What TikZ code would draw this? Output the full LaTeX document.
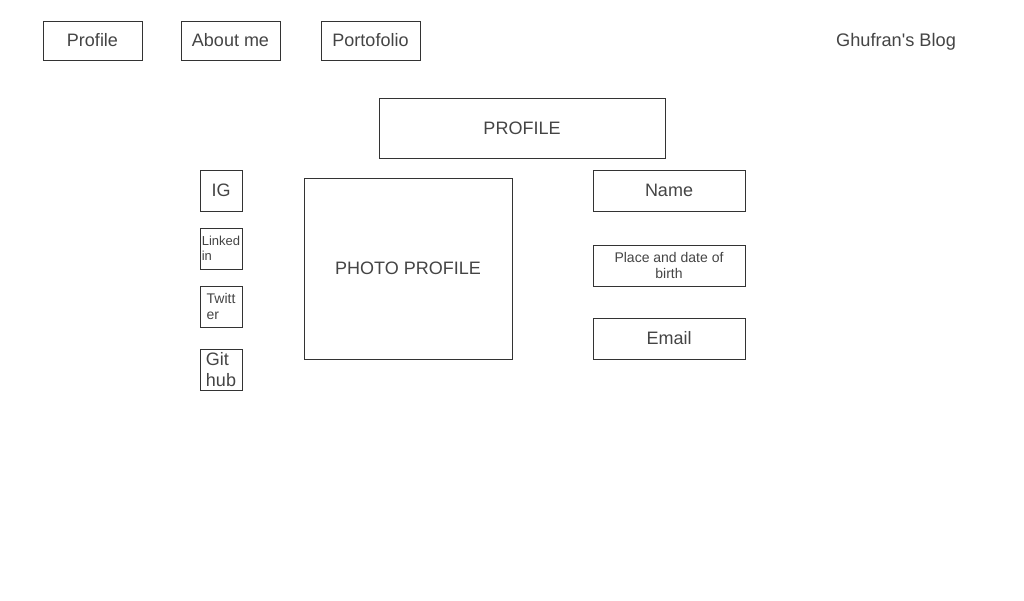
\documentclass[tikz,border=0pt]{standalone}
\usepackage{fontspec}
\setmainfont{Liberation Sans}
\definecolor{ink}{HTML}{444444}
\definecolor{edge}{HTML}{333333}
\tikzset{
  wirebox/.style = {draw = edge, line width = 1pt, inner sep = 0pt, text = ink, align = center},
  navbox/.style = {wirebox, minimum width = 99pt, minimum height = 39pt, font = \fontsize{18}{21}\selectfont},
  socialbox/.style = {wirebox, minimum width = 42pt, minimum height = 41pt, align = left},
  infobox/.style = {wirebox, minimum width = 152pt, minimum height = 41pt},
}
\begin{document}
\begin{tikzpicture}[x = 1pt, y = -1pt]
  \useasboundingbox (0,0) rectangle (1024,600);
  % top bar
  \node [navbox] (profile) at (92.5,40.5) {Profile};
  \node [navbox] (about) at (230.5,40.5) {About me};
  \node [navbox] (porto) at (370.5,40.5) {Portofolio};
  \node [text = ink, font = \fontsize{18.2}{21}\selectfont] (blog) at (896,41.5) {Ghufran\textquotesingle s Blog};
  % title and photo
  \node [wirebox, minimum width = 286pt, minimum height = 60pt, font = \fontsize{18}{21}\selectfont] (title) at (522,128) {PROFILE};
  \node [wirebox, minimum width = 208pt, minimum height = 181pt, font = \fontsize{18}{21}\selectfont] (photo) at (408,268.5) {PHOTO PROFILE};
  % social links
  \node [socialbox, font = \fontsize{18}{21}\selectfont] (ig) at (221,190.5) {IG};
  \node [socialbox, font = \fontsize{13}{15}\selectfont] (linkedin) at (221,248.5) {Linked\\in};
  \node [socialbox, font = \fontsize{14}{16}\selectfont] (twitter) at (221,306.5) {Twitt\\er};
  \node [socialbox, font = \fontsize{18}{21}\selectfont] (github) at (221,369.5) {Git\\hub};
  % personal data
  \node [infobox, font = \fontsize{18}{21}\selectfont] (name) at (669,190.5) {Name};
  \node [infobox, font = \fontsize{14}{16}\selectfont] (birth) at (669,265.5) {Place and date of\\birth};
  \node [infobox, font = \fontsize{18}{21}\selectfont] (email) at (669,338.5) {Email};
\end{tikzpicture}
\end{document}
